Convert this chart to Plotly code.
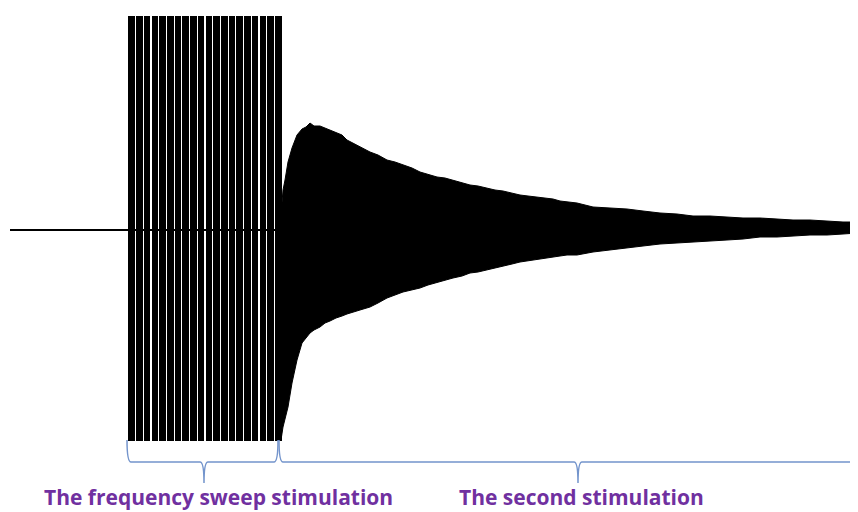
import plotly.graph_objects as go

# ---- data (time in arbitrary units, amplitude in arbitrary units) ----
baseline_t = [10, 281]
baseline_a = [0, 0]

# frequency sweep pulses (start times), pulse width, top/bottom amplitudes
pulse_starts = [128, 136, 143.5, 151.5, 159, 167, 174.5, 182, 190, 197.5,
                205.5, 213, 221, 228.5, 236, 244, 251.5, 259.5, 267, 275]
pulse_width = 6.8
pulse_top = 214
pulse_bottom = -211

# envelope of the second-stimulation response
t_env = [281, 283, 285, 288, 292, 297, 302, 306, 310, 314,
         320, 325, 330, 336, 342, 347, 353, 360, 370, 378,
         387, 395, 403, 412, 420, 428, 437, 445, 453, 462,
         470, 478, 487, 495, 503, 512, 520, 528, 537, 545,
         553, 560, 567, 577, 593, 610, 627, 643, 660, 677,
         693, 710, 727, 743, 760, 777, 793, 810, 827, 843, 858]
upper_env = [15, 40, 50, 68, 82, 95, 101, 103, 107, 104,
             104, 102, 100, 97, 95, 90, 87, 83, 78, 75,
             70, 68, 65, 62, 58, 56, 53, 52, 50, 47,
             45, 44, 42, 40, 39, 37, 35, 34, 33, 32,
             31, 29, 28, 27, 23, 22, 21, 19, 17, 16,
             14, 14, 13, 12, 12, 11, 10, 10, 9, 8, 8]
lower_env = [-210, -197, -190, -177, -153, -130, -113, -108, -103, -100,
             -97, -93, -91, -88, -86, -84, -82, -80, -77, -73,
             -68, -65, -62, -60, -58, -55, -52, -50, -48, -46,
             -43, -42, -40, -38, -36, -34, -32, -31, -29, -28,
             -27, -26, -25, -25, -22, -20, -18, -16, -14, -13,
             -12, -11, -10, -9, -7, -7, -6, -5, -5, -4, -3]

# stimulation regions: (start, end, brace tip, label, label centre)
regions = [
    (127, 278, 204, "The frequency sweep stimulation", 218),
    (279, 866, 578, "The second stimulation", 581),
]

# ---- figure ----
fig = go.Figure()

pulse_centres = [s + pulse_width / 2 for s in pulse_starts]
fig.add_trace(go.Bar(
    x=pulse_centres,
    y=[pulse_top - pulse_bottom] * len(pulse_centres),
    base=pulse_bottom,
    width=pulse_width,
    marker=dict(color="black", line=dict(width=0)),
    hoverinfo="skip",
))

fig.add_trace(go.Scatter(
    x=t_env + t_env[::-1],
    y=upper_env + lower_env[::-1],
    fill="toself",
    fillcolor="black",
    mode="lines",
    line=dict(color="black", width=1),
    hoverinfo="skip",
))

fig.add_trace(go.Scatter(
    x=baseline_t, y=baseline_a, mode="lines",
    line=dict(color="black", width=2), hoverinfo="skip",
))

brace_color = "#7394cc"
y_end, y_bar, y_tip = -210, -232, -253
r = 4
shapes = []
annotations = []
for x0, x1, xm, label, xl in regions:
    path = (f"M {x0},{y_end} Q {x0},{y_bar} {x0 + r},{y_bar} "
            f"L {xm - r},{y_bar} Q {xm},{y_bar} {xm},{y_tip} "
            f"Q {xm},{y_bar} {xm + r},{y_bar} "
            f"L {x1 - r},{y_bar} Q {x1},{y_bar} {x1},{y_end}")
    shapes.append(dict(type="path", path=path, xref="x", yref="y",
                       line=dict(color=brace_color, width=1.5)))
    annotations.append(dict(x=xl, y=-267, xref="x", yref="y", text=f"<b>{label}</b>",
                            showarrow=False, xanchor="center", yanchor="middle",
                            font=dict(family="Open Sans", size=21, color="#7030A0")))

# the page places the figure 8 px in from the top-left corner; size and ranges match the window
fig.update_layout(
    width=850, height=504,
    margin=dict(l=0, r=0, t=0, b=0),
    paper_bgcolor="white", plot_bgcolor="white",
    showlegend=False,
    bargap=0,
    xaxis=dict(range=[8, 858], visible=False, fixedrange=True),
    yaxis=dict(range=[-282, 222], visible=False, fixedrange=True),
    shapes=shapes,
    annotations=annotations,
)

fig.write_html("out.html")
